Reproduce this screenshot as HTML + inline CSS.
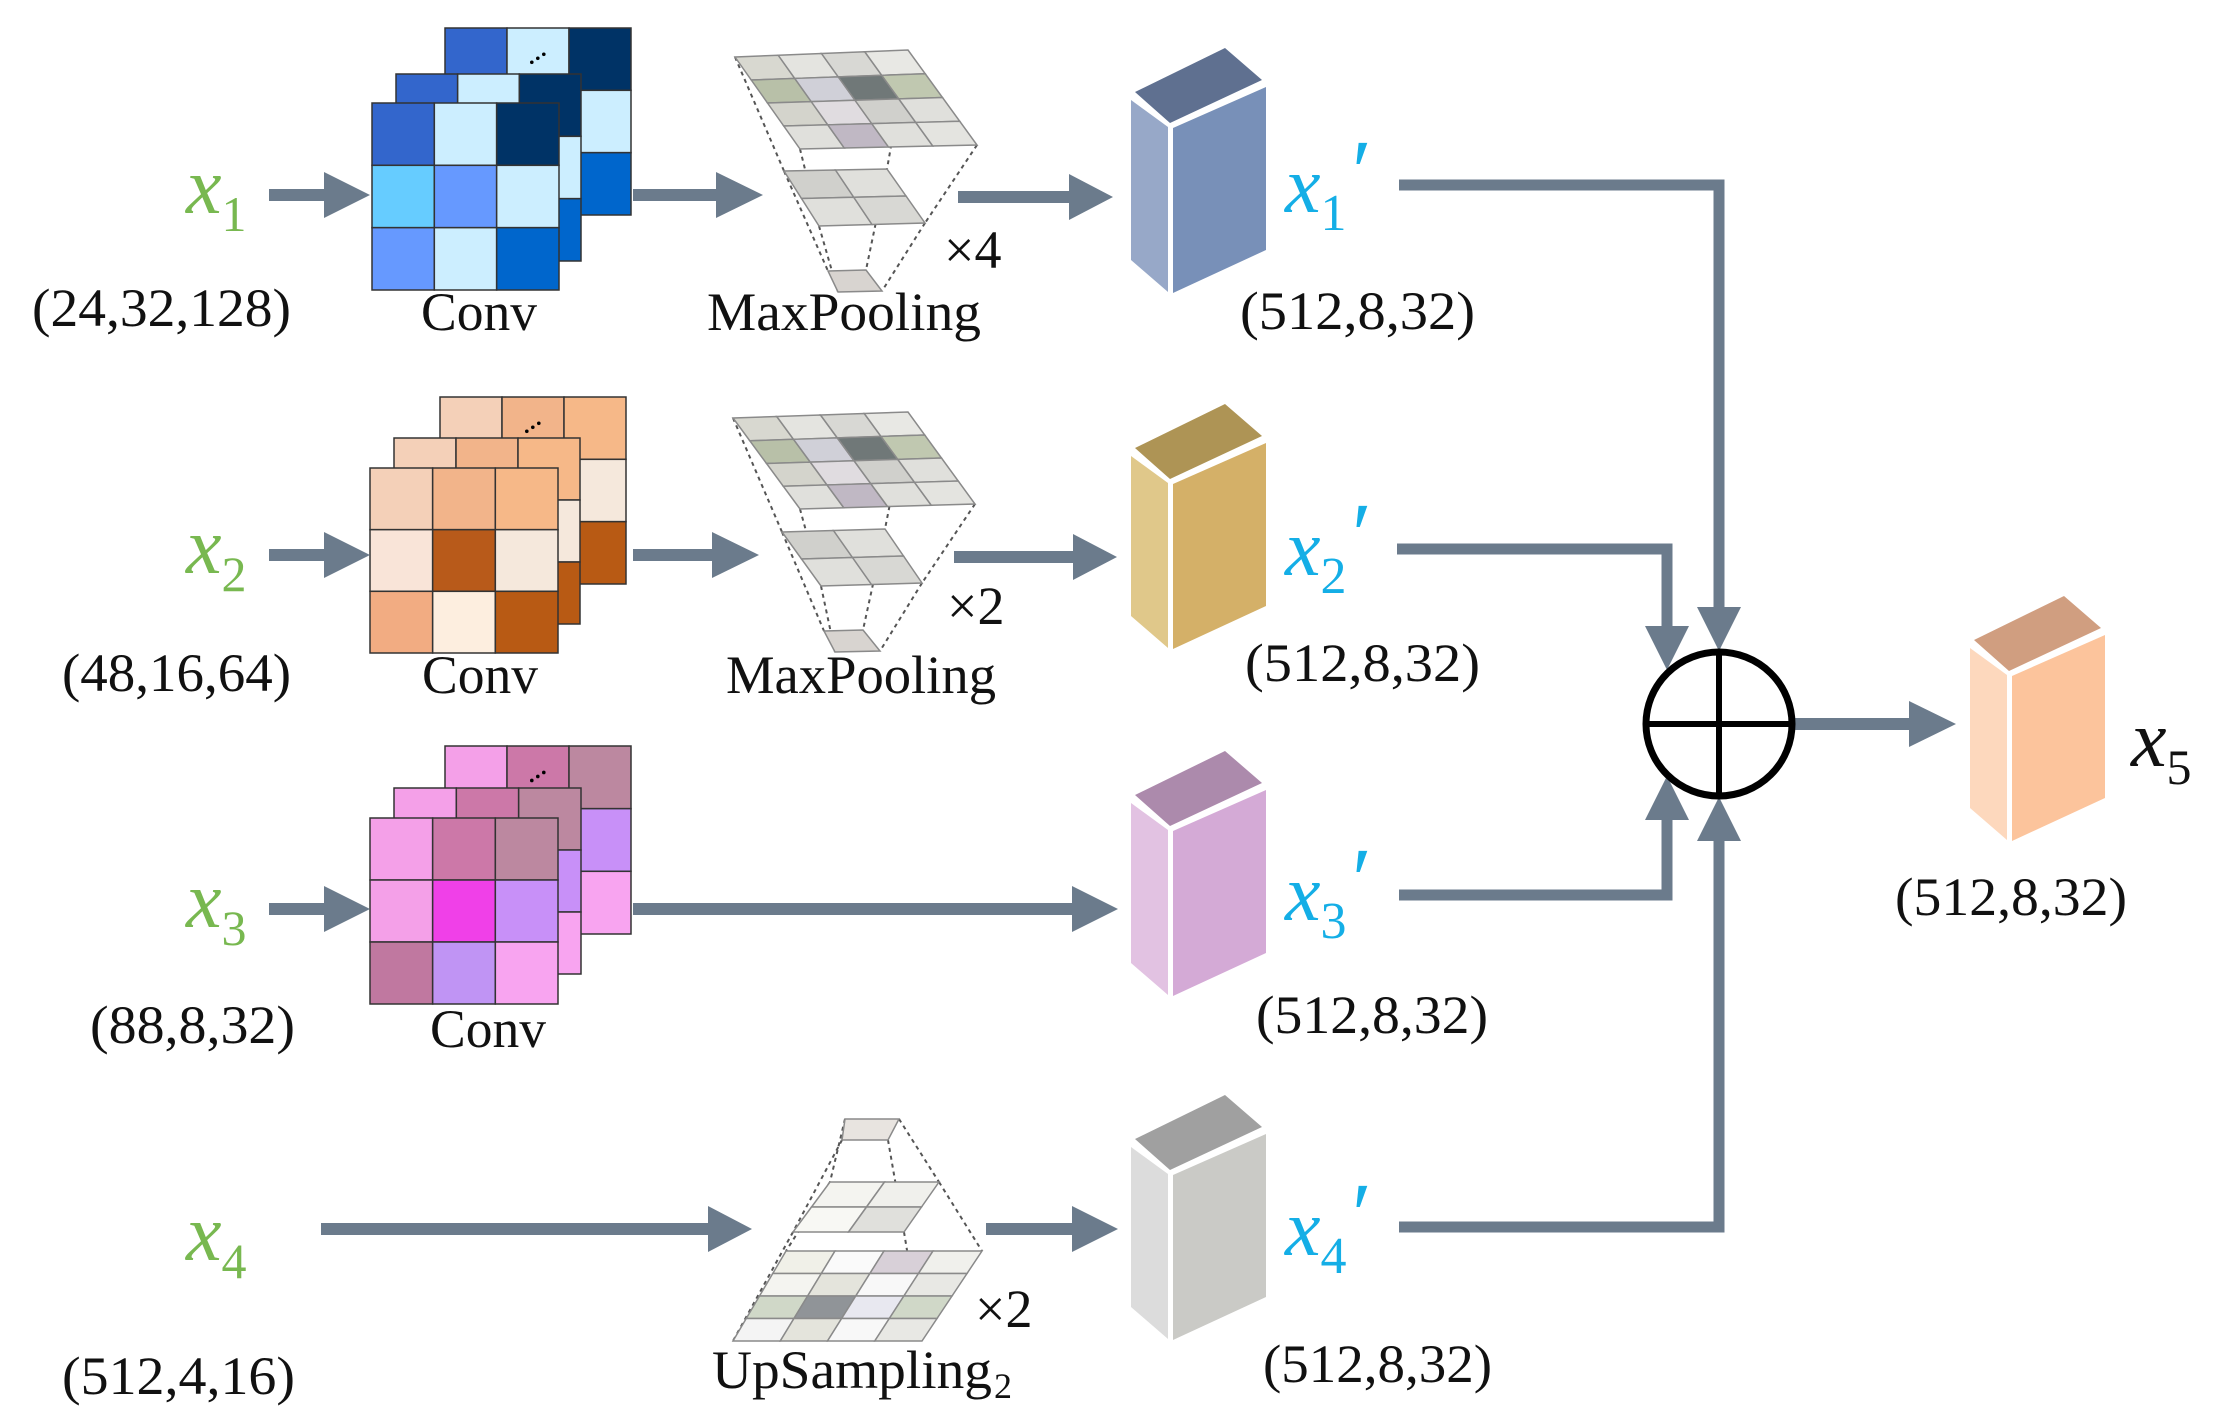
<!DOCTYPE html>
<html><head><meta charset="utf-8"><style>html,body{margin:0;padding:0;background:#fff}svg{display:block}</style></head>
<body>
<svg id="s" xmlns="http://www.w3.org/2000/svg" width="2219" height="1426" viewBox="0 0 2219 1426">
<rect width="2219" height="1426" fill="#fff"/>
<g id="g"></g>
<g style="font-family:'Liberation Serif',serif" fill="#111">
<g fill="#78b850">
<text x="186" y="213" font-size="80" font-style="italic">x<tspan font-size="50" font-style="normal" dy="18">1</tspan></text>
<text x="186" y="573" font-size="80" font-style="italic">x<tspan font-size="50" font-style="normal" dy="18">2</tspan></text>
<text x="186" y="927" font-size="80" font-style="italic">x<tspan font-size="50" font-style="normal" dy="18">3</tspan></text>
<text x="186" y="1260" font-size="80" font-style="italic">x<tspan font-size="50" font-style="normal" dy="18">4</tspan></text>
</g>
<g font-size="54">
<text x="32" y="326" textLength="259" lengthAdjust="spacingAndGlyphs">(24,32,128)</text>
<text x="62" y="691" textLength="229" lengthAdjust="spacingAndGlyphs">(48,16,64)</text>
<text x="90" y="1043" textLength="205" lengthAdjust="spacingAndGlyphs">(88,8,32)</text>
<text x="62" y="1394" textLength="233" lengthAdjust="spacingAndGlyphs">(512,4,16)</text>
<text x="421" y="330" textLength="116" lengthAdjust="spacingAndGlyphs">Conv</text>
<text x="422" y="693" textLength="116" lengthAdjust="spacingAndGlyphs">Conv</text>
<text x="430" y="1047" textLength="116" lengthAdjust="spacingAndGlyphs">Conv</text>
<text x="707" y="330" textLength="274" lengthAdjust="spacingAndGlyphs">MaxPooling</text>
<text x="726" y="693" textLength="270" lengthAdjust="spacingAndGlyphs">MaxPooling</text>
<text x="712" y="1388" textLength="280" lengthAdjust="spacingAndGlyphs">UpSampling</text><text x="994" y="1398" font-size="36">2</text>
<text x="944" y="268">×4</text>
<text x="947" y="624">×2</text>
<text x="975" y="1327">×2</text>
<text x="1240" y="329" textLength="235" lengthAdjust="spacingAndGlyphs">(512,8,32)</text>
<text x="1245" y="681" textLength="235" lengthAdjust="spacingAndGlyphs">(512,8,32)</text>
<text x="1256" y="1033" textLength="232" lengthAdjust="spacingAndGlyphs">(512,8,32)</text>
<text x="1263" y="1382" textLength="229" lengthAdjust="spacingAndGlyphs">(512,8,32)</text>
<text x="1895" y="915" textLength="232" lengthAdjust="spacingAndGlyphs">(512,8,32)</text>
</g>
<g fill="#14aee6">
<text x="1285" y="212" font-size="80" font-style="italic">x<tspan font-size="52" font-style="normal" dy="18">1</tspan><tspan font-size="90" dy="-28">′</tspan></text>
<text x="1285" y="575" font-size="80" font-style="italic">x<tspan font-size="52" font-style="normal" dy="18">2</tspan><tspan font-size="90" dy="-28">′</tspan></text>
<text x="1285" y="920" font-size="80" font-style="italic">x<tspan font-size="52" font-style="normal" dy="18">3</tspan><tspan font-size="90" dy="-28">′</tspan></text>
<text x="1285" y="1255" font-size="80" font-style="italic">x<tspan font-size="52" font-style="normal" dy="18">4</tspan><tspan font-size="90" dy="-28">′</tspan></text>
</g>
<text x="2131" y="766" font-size="80" font-style="italic" fill="#111">x<tspan font-size="50" font-style="normal" dy="18">5</tspan></text>
</g>
</svg>
<script>
(function(){
var g=document.getElementById('g'),NS='http://www.w3.org/2000/svg';
function el(t,a){var e=document.createElementNS(NS,t);for(var k in a)e.setAttribute(k,a[k]);g.appendChild(e);return e;}
function poly(pts,fill,extra){var a={points:pts.map(function(p){return p[0]+','+p[1]}).join(' '),fill:fill};for(var k in extra)a[k]=extra[k];return el('polygon',a);}
var AC='#6b7b8c';
function harrow(x1,x2,y,hl){el('rect',{x:x1,y:y-6,width:x2-hl-x1+1,height:12,fill:AC});poly([[x2-hl,y-23],[x2,y],[x2-hl,y+23]],AC);}
function varrow(x,ytip,dir){var hl=44;poly([[x-22,ytip-dir*hl],[x,ytip],[x+22,ytip-dir*hl]],AC);}
function plate(x0,y0,x1,y1,cols,dots){var w=(x1-x0)/3,h=(y1-y0)/3;for(var r=0;r<3;r++)for(var c=0;c<3;c++)el('rect',{x:x0+c*w,y:y0+r*h,width:w,height:h,fill:cols[r][c],stroke:'#333','stroke-width':1.5});
 if(dots){for(var i=0;i<3;i++)el('circle',{cx:x0+w*1.4+i*6,cy:y0+h*0.55-i*4,r:1.8,fill:'#000'});}}
function conv(pl,cols){plate(pl[2][0],pl[2][1],pl[2][2],pl[2][3],cols,true);plate(pl[1][0],pl[1][1],pl[1][2],pl[1][3],cols,false);plate(pl[0][0],pl[0][1],pl[0][2],pl[0][3],cols,false);}
var B=[['#3366cc','#cceeff','#003366'],['#66ccff','#6699ff','#cceeff'],['#6699ff','#cceeff','#0066cc']];
var O=[['#f4d0b8','#f2b48a','#f6b888'],['#f9e4d8','#b85a1a','#f5e8dc'],['#f2ac82','#fdeedf','#b85a14']];
var P=[['#f4a0e8','#cc78a8','#bc88a0'],['#f4a0e8','#f040e8','#c890f8'],['#c078a0','#c094f4','#f8a4f0']];
conv([[372,103,559,290],[396,74,581,261],[445,28,631,215]],B);
conv([[370,468,558,653],[394,438,580,624],[440,397,626,584]],O);
conv([[370,818,558,1004],[394,788,581,974],[445,746,631,934]],P);
function lerp(a,b,t){return [a[0]+(b[0]-a[0])*t,a[1]+(b[1]-a[1])*t];}
function pt(q,u,v){var a=lerp(q[0],q[1],u),b=lerp(q[3],q[2],u);return lerp(a,b,v);}
function grid(q,n,cols){for(var r=0;r<n;r++)for(var c=0;c<n;c++){poly([pt(q,c/n,r/n),pt(q,(c+1)/n,r/n),pt(q,(c+1)/n,(r+1)/n),pt(q,c/n,(r+1)/n)],cols[r*n+c],{stroke:'#8a8a8a','stroke-width':1.5});}}
function dashes(a,b){for(var i=0;i<4;i++)el('line',{x1:a[i][0],y1:a[i][1],x2:b[i][0],y2:b[i][1],stroke:'#555','stroke-width':2,'stroke-dasharray':'4,4'});}
var T4=['#d8d8d0','#e4e4e0','#d8d8d4','#e8e8e4','#b8c0a8','#d0d0d8','#707878','#c0c8b0','#d4d4cc','#e0dce0','#d0d0cc','#e0e0dc','#e0e0dc','#c0b8c4','#e0e0dc','#e4e4e0'];
var M2=['#d0d0cc','#e0e0dc','#e0e0dc','#d8d8d4'];
function pool(t,m,b){dashes(t,m);dashes(m,b);grid(b,1,['#d8d4d0']);grid(m,2,M2);grid(t,4,T4);}
pool([[735,57],[908,50],[977,145],[800,149]],[[784,171],[887,169],[925,223],[819,226]],[[828,271],[866,270],[882,291],[838,292]]);
pool([[733,418],[908,412],[975,504],[800,509]],[[782,532],[885,529],[922,583],[821,586]],[[824,631],[863,630],[880,651],[835,652]]);
var U4=['#f0f0e8','#fafafa','#d8d0d8','#f0f0ec','#f4f4f0','#e4e4dc','#f8f8f8','#e8e8e4','#d0d8c8','#909498','#e8e8f0','#d0d8c8','#f4f4f4','#e4e4dc','#f8f8f8','#e8e8e4'];
var ut=[[845,1119],[899,1119],[888,1140],[842,1140]],um=[[830,1182],[939,1182],[904,1232],[793,1232]],ub=[[786,1251],[982,1251],[922,1341],[733,1341]];
dashes(ut,um);dashes(um,ub);grid(ut,1,['#e8e4e0']);grid(um,2,['#f4f4f0','#f0f0ec','#f8f8f4','#e0e0dc']);grid(ub,4,U4);
function cub(dx,dy,ct,cl,cr){function s(p){return p.map(function(q){return [q[0]+dx,q[1]+dy]});}
 poly(s([[1135,92],[1225,48],[1262,80],[1170,123]]),ct);
 poly(s([[1131,100],[1168,127],[1168,292],[1131,260]]),cl);
 poly(s([[1173,128],[1266,87],[1266,250],[1173,293]]),cr);}
cub(0,0,'#5f7090','#97a8c8','#7890b8');
cub(0,356,'#ae9455','#e0c88a','#d4b068');
cub(0,703,'#ac8aac','#e2c2e2','#d4aad6');
cub(0,1047,'#a0a0a0','#dcdcdc','#cacac6');
cub(839,548,'#d09e80','#fdd8bd','#fcc49c');
harrow(269,370,195,46);harrow(633,763,195,47);harrow(958,1113,197,44);
harrow(269,370,555,46);harrow(633,759,555,47);harrow(954,1117,557,44);
harrow(269,370,909,46);harrow(633,1118,909,46);
harrow(321,752,1229,44);harrow(986,1118,1229,46);
function pl(pts){el('polyline',{points:pts.map(function(p){return p[0]+','+p[1]}).join(' '),fill:'none',stroke:AC,'stroke-width':11});}
pl([[1399,185],[1719,185],[1719,610]]);varrow(1719,651,1);
pl([[1397,549],[1667,549],[1667,630]]);varrow(1667,670,1);
pl([[1399,895],[1667,895],[1667,815]]);varrow(1667,776,-1);
pl([[1399,1227],[1719,1227],[1719,835]]);varrow(1719,797,-1);
harrow(1793,1956,724,47);
el('ellipse',{cx:1719,cy:724,rx:73,ry:72,fill:'#fff',stroke:'#000','stroke-width':7});
el('line',{x1:1646,y1:724,x2:1792,y2:724,stroke:'#000','stroke-width':6});
el('line',{x1:1719,y1:652,x2:1719,y2:796,stroke:'#000','stroke-width':6});
})();
</script>
</body></html>
